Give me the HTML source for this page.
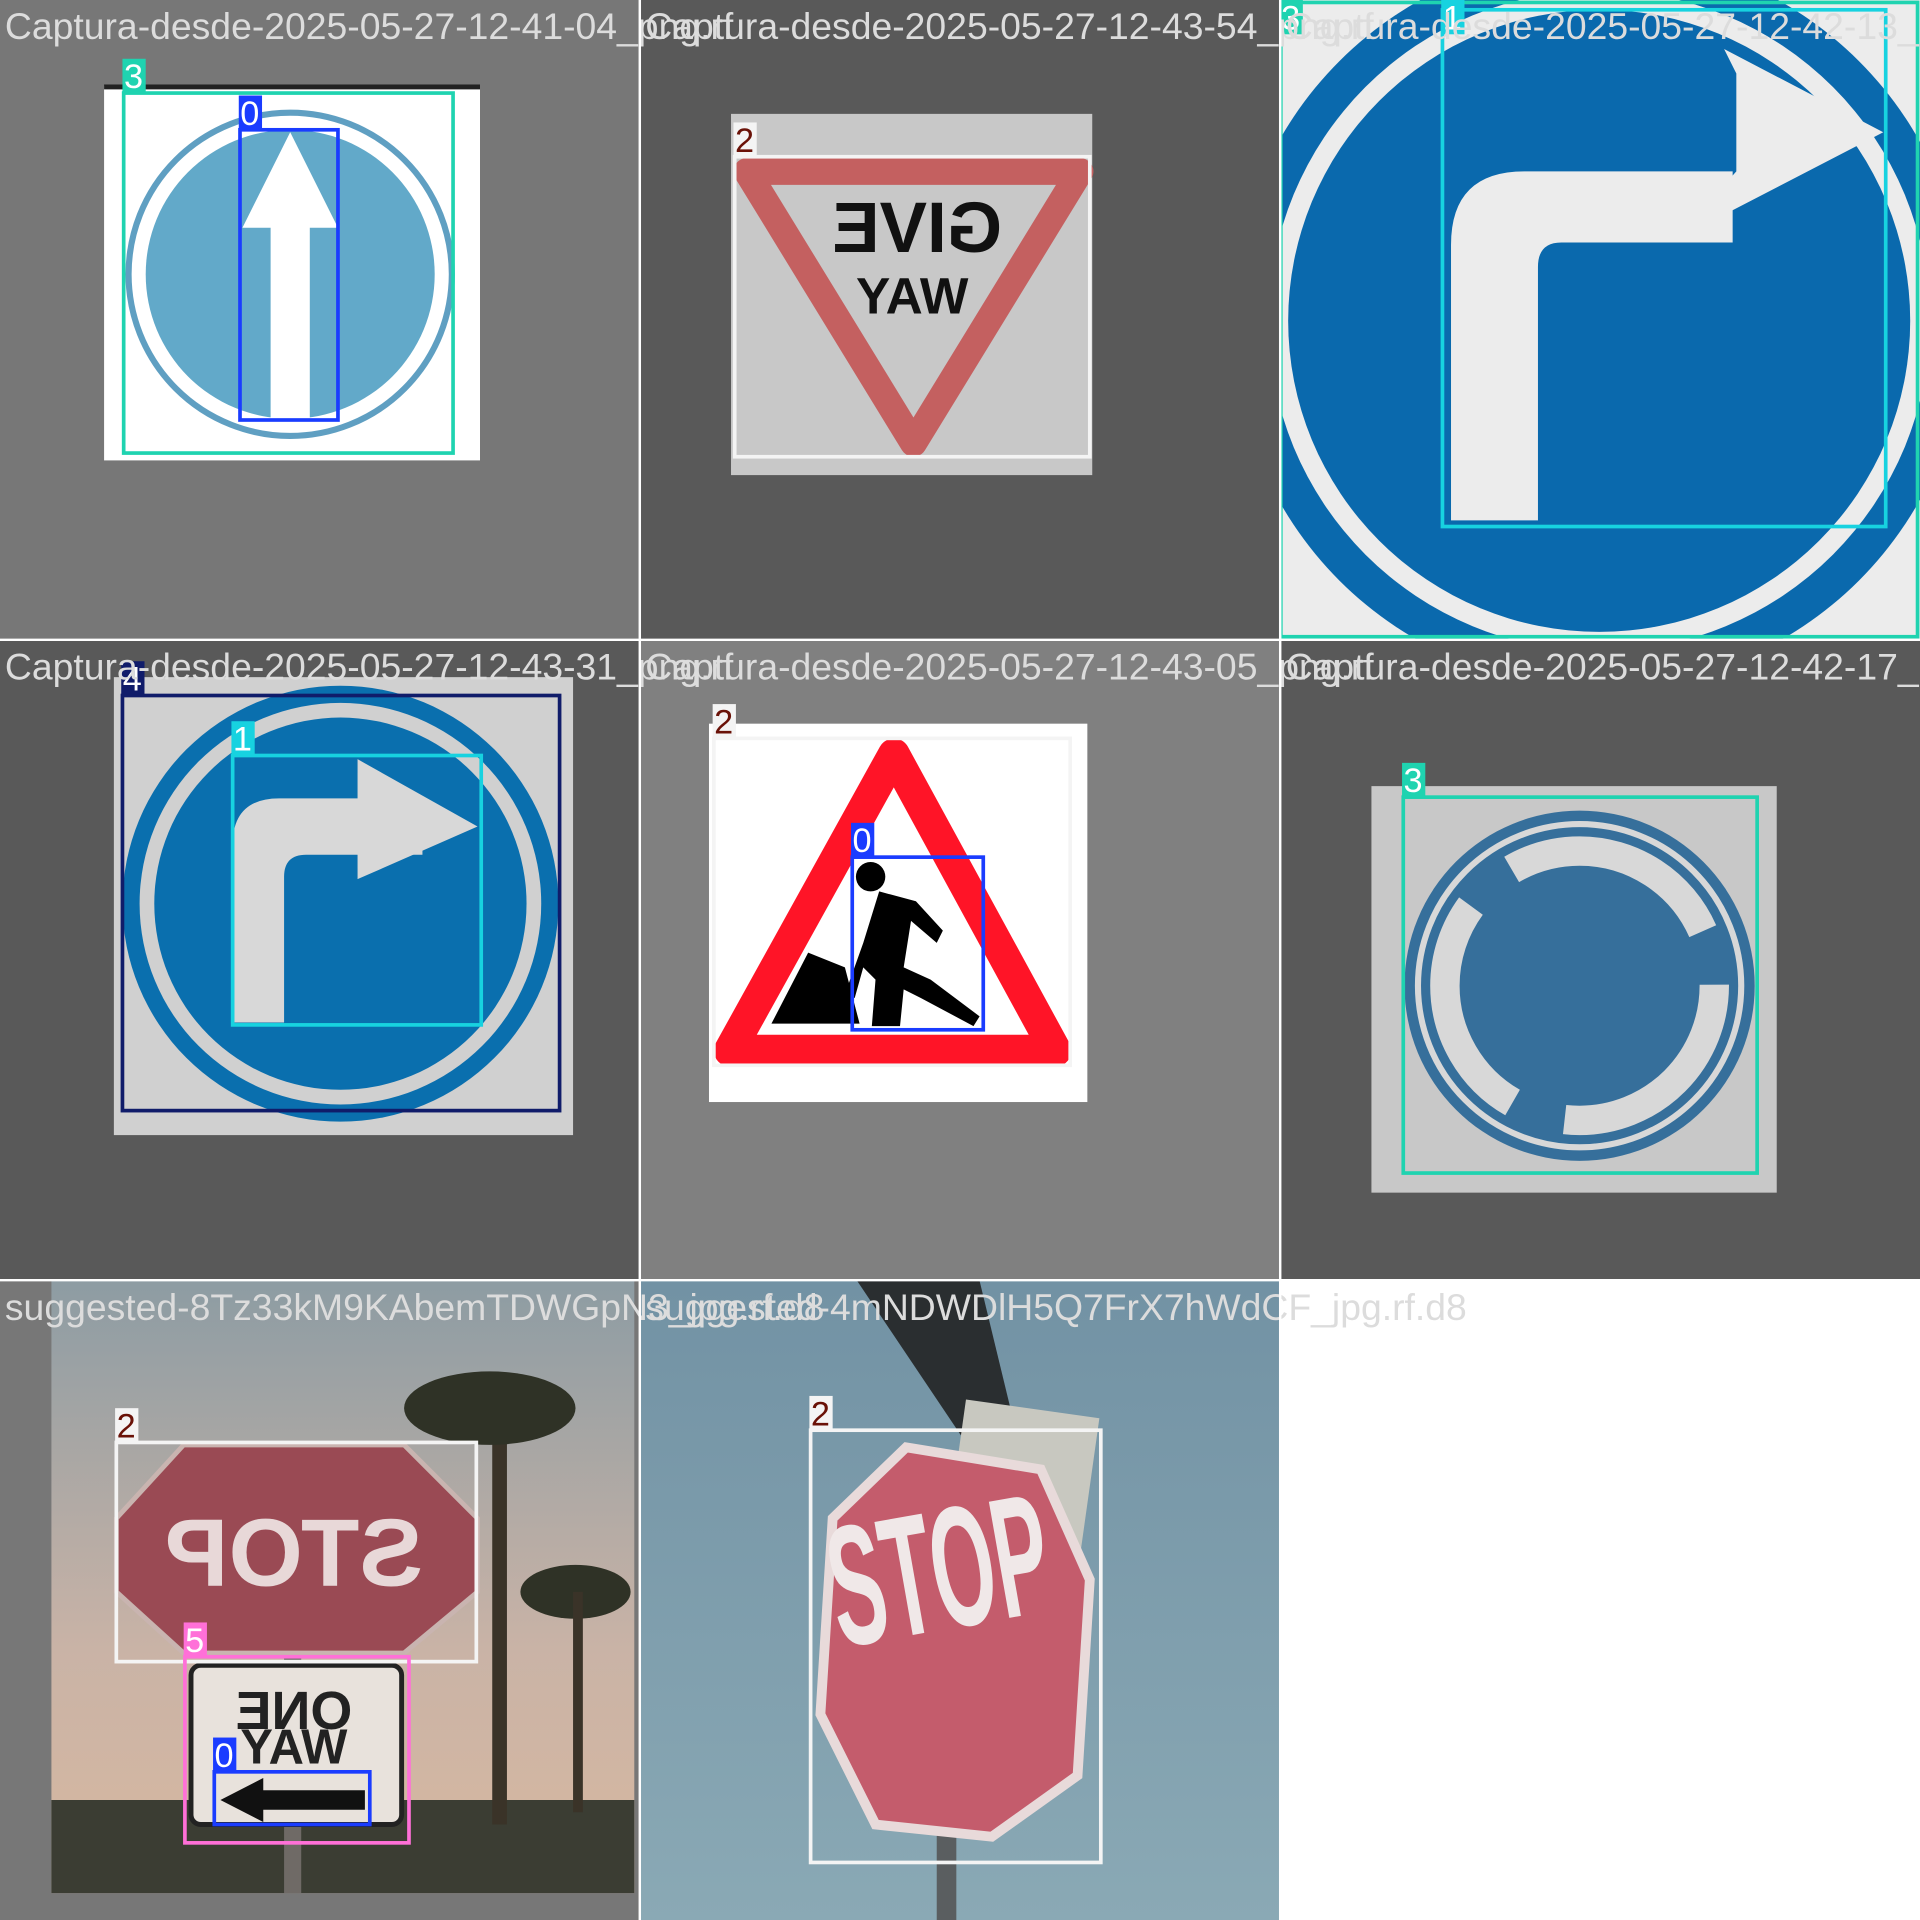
<!DOCTYPE html>
<html><head><meta charset="utf-8"><style>
html,body{margin:0;padding:0;background:#fff;}
svg{display:block;}
text{font-family:"Liberation Sans",sans-serif;}
</style></head><body>
<svg id="mosaic" width="1920" height="1920" viewBox="0 0 1568 1568" xmlns="http://www.w3.org/2000/svg">
<defs>
<clipPath id="c02"><rect x="1046" y="0" width="522" height="522"/></clipPath>
<clipPath id="c20"><rect x="0" y="1046" width="522" height="522"/></clipPath>
<clipPath id="c21"><rect x="523" y="1046" width="522" height="522"/></clipPath>
<linearGradient id="sky1" x1="0" y1="0" x2="0" y2="1"><stop offset="0" stop-color="#8d9ca3"/><stop offset="0.6" stop-color="#c9b3a6"/><stop offset="1" stop-color="#d8b8a0"/></linearGradient>
<linearGradient id="sky2" x1="0" y1="0" x2="0" y2="1"><stop offset="0" stop-color="#7292a4"/><stop offset="1" stop-color="#8aa9b5"/></linearGradient>
</defs>
<rect width="1568" height="1568" fill="#ffffff"/>

<g>
<rect x="0" y="0" width="522" height="522" fill="#777777"/>
<rect x="85" y="70" width="307" height="306" fill="#ffffff"/>
<rect x="85" y="69" width="307" height="4" fill="#222"/>
<circle cx="237" cy="224" r="132" fill="#ffffff" stroke="#5f9fc2" stroke-width="5"/>
<circle cx="237" cy="224" r="118" fill="#62a9c9"/>
<rect x="221" y="180" width="32" height="164" fill="#fff"/>
<polygon points="198,186 237,108 276,186" fill="#fff"/>
</g>

<g>
<rect x="523" y="0" width="522" height="522" fill="#595959"/>
<rect x="597" y="93" width="295" height="295" fill="#c8c8c8"/>
<polygon points="610,140 882,140 746,362" fill="none" stroke="#c46060" stroke-width="22" stroke-linejoin="round"/>
<text x="-749" y="206" transform="scale(-1,1)" text-anchor="middle" font-size="58" font-weight="bold" fill="#111">GIVE</text>
<text x="745" y="256" text-anchor="middle" font-size="42" font-weight="bold" fill="#111">YAW</text>
</g>

<g clip-path="url(#c02)">
<rect x="1046" y="0" width="522" height="522" fill="#ececec"/>
<circle cx="1306" cy="262" r="300" fill="#0a69ad"/>
<circle cx="1306" cy="262" r="270" fill="#ececec"/>
<circle cx="1306" cy="262" r="254" fill="#0a69ad"/>
<path d="M1185,425 L1185,200 Q1185,140 1245,140 L1415,140 L1415,198 L1275,198 Q1256,198 1256,218 L1256,425 Z" fill="#ececec"/>
<polygon points="1408,40 1538,108 1368,196 1418,140 1418,60" fill="#ececec"/>
</g>

<g>
<rect x="0" y="523" width="522" height="522" fill="#595959"/>
<rect x="93" y="553" width="375" height="374" fill="#d0d0d0"/>
<circle cx="278" cy="738" r="178" fill="#0a6fae"/>
<circle cx="278" cy="738" r="164" fill="#d0d0d0"/>
<circle cx="278" cy="738" r="152" fill="#0a6fae"/>
<path d="M190,835 L190,690 Q190,652 228,652 L345,652 L345,698 L250,698 Q232,698 232,716 L232,835 Z" fill="#d8d8d8"/>
<polygon points="292,620 390,675 292,718" fill="#d8d8d8"/>
</g>

<g>
<rect x="523" y="523" width="522" height="522" fill="#808080"/>
<rect x="579" y="591" width="309" height="309" fill="#ffffff"/>
<polygon points="730,616 862,858 596,858" fill="#fff" stroke="#ff1427" stroke-width="26" stroke-linejoin="round"/>
<polygon points="630,836 660,778 690,790 702,836" fill="#000"/>
<circle cx="711" cy="716" r="12" fill="#000"/>
<polygon points="718,728 748,736 770,760 765,770 744,752 738,790 760,800 800,830 795,838 752,815 738,808 735,838 712,838 715,800 705,790 698,815 690,812 705,770" fill="#000"/>
</g>

<g>
<rect x="1046" y="523" width="522" height="522" fill="#595959"/>
<rect x="1120" y="642" width="331" height="332" fill="#c8c8c8"/>
<circle cx="1290" cy="805" r="143" fill="#366f9b"/>
<circle cx="1290" cy="805" r="132" fill="none" stroke="#d8d8d8" stroke-width="5"/>
<circle cx="1290" cy="805" r="110" fill="none" stroke="#d8d8d8" stroke-width="24" stroke-dasharray="185 45"/>
</g>

<g clip-path="url(#c20)">
<rect x="0" y="1046" width="522" height="522" fill="#777777"/>
<rect x="42" y="1046" width="476" height="500" fill="url(#sky1)"/>
<rect x="42" y="1470" width="476" height="76" fill="#3b3d33"/>
<rect x="402" y="1170" width="12" height="320" fill="#3a3328"/>
<ellipse cx="400" cy="1150" rx="70" ry="30" fill="#2f3226"/>
<ellipse cx="470" cy="1300" rx="45" ry="22" fill="#2f3226"/>
<rect x="468" y="1300" width="8" height="180" fill="#3a3328"/>
<rect x="232" y="1350" width="14" height="196" fill="#6f6a66"/>
<polygon points="150,1180 330,1180 390,1240 390,1300 330,1350 150,1350 95,1300 95,1240" fill="#9a4a54" stroke="#c9b4b0" stroke-width="4"/>
<text x="-240" y="1295" transform="scale(-1,1)" text-anchor="middle" font-size="78" font-weight="bold" fill="#e8d8d8">STOP</text>
<rect x="156" y="1360" width="172" height="130" rx="8" fill="#e8e2dc" stroke="#222" stroke-width="4"/>
<text x="-240" y="1412" transform="scale(-1,1)" text-anchor="middle" font-size="44" font-weight="bold" fill="#222">ONE</text>
<text x="240" y="1440" text-anchor="middle" font-size="40" font-weight="bold" fill="#222" transform="translate(480,0) scale(-1,1)">WAY</text>
<polygon points="180,1470 215,1452 215,1462 298,1462 298,1478 215,1478 215,1488" fill="#111"/>
</g>

<g clip-path="url(#c21)">
<rect x="523" y="1046" width="522" height="522" fill="url(#sky2)"/>
<polygon points="700,1046 800,1046 830,1170 790,1180" fill="#2a2e30"/>
<rect x="765" y="1480" width="16" height="88" fill="#5a5e60"/>
<rect x="780" y="1150" width="110" height="120" fill="#c8c8c0" transform="rotate(8 835 1210)"/>
<polygon points="740,1182 850,1200 890,1290 880,1450 810,1500 715,1490 670,1400 680,1240" fill="#c45c6c" stroke="#e8dada" stroke-width="8"/>
<g transform="rotate(-10 775 1330)"><text x="775" y="1330" text-anchor="middle" font-size="70" font-weight="bold" fill="#f0e8e8" transform="translate(775 1330) scale(1,2) translate(-775 -1330)" textLength="180" lengthAdjust="spacingAndGlyphs">STOP</text></g>
</g>

<g id="boxes"></g>
<g id="titles"></g>
<g>
<line x1="522.5" y1="0" x2="522.5" y2="1568" stroke="#fff" stroke-width="2"/>
<line x1="1045.5" y1="0" x2="1045.5" y2="1568" stroke="#fff" stroke-width="2"/>
<line x1="0" y1="522.5" x2="1568" y2="522.5" stroke="#fff" stroke-width="2"/>
<line x1="0" y1="1045.5" x2="1568" y2="1045.5" stroke="#fff" stroke-width="2"/>
</g>
</svg>
<script>
const NS = "http://www.w3.org/2000/svg";
const boxClasses = [3, 0, 2, 3, 1, 4, 1, 2, 0, 3, 2, 5, 0, 2];
const boxX1 = [101, 196, 600, 1046, 1178, 100, 190, 583, 696, 1146, 95, 151, 175, 662];
const boxY1 = [76, 106, 128, 2, 8, 568, 617, 603, 700, 651, 1178, 1353, 1447, 1168];
const boxX2 = [370, 276, 890, 1566, 1540, 457, 393, 874, 803, 1435, 389, 334, 302, 899];
const boxY2 = [370, 343, 373, 520, 430, 907, 837, 870, 841, 958, 1357, 1505, 1490, 1521];
const classColors = ["#1a3cff", "#17d2e0", "#f4f4f4", "#1fd3b0", "#101c6a", "#ff70d8"];
const labelTextColors = ["#fff", "#fff", "#6a1208", "#fff", "#fff", "#fff"];
const titleTexts = [
 "Captura-desde-2025-05-27-12-41-04_png.rf",
 "Captura-desde-2025-05-27-12-43-54_png.rf",
 "Captura-desde-2025-05-27-12-42-13_png.rf",
 "Captura-desde-2025-05-27-12-43-31_png.rf",
 "Captura-desde-2025-05-27-12-43-05_png.rf",
 "Captura-desde-2025-05-27-12-42-17_png.rf",
 "suggested-8Tz33kM9KAbemTDWGpN3_jpg.rf.d8",
 "suggested-4mNDWDlH5Q7FrX7hWdCF_jpg.rf.d8"
];
const bg = document.getElementById("boxes");
for (let i = 0; i < boxClasses.length; i++) {
  const c = boxClasses[i];
  const r = document.createElementNS(NS, "rect");
  r.setAttribute("x", boxX1[i]); r.setAttribute("y", boxY1[i]);
  r.setAttribute("width", boxX2[i] - boxX1[i]); r.setAttribute("height", boxY2[i] - boxY1[i]);
  r.setAttribute("fill", "none"); r.setAttribute("stroke", classColors[c]); r.setAttribute("stroke-width", "3");
  
  
  bg.appendChild(r);
  const lb = document.createElementNS(NS, "rect");
  lb.setAttribute("x", boxX1[i] - 1); lb.setAttribute("y", Math.max(0, boxY1[i] - 28));
  lb.setAttribute("width", 19); lb.setAttribute("height", 28);
  lb.setAttribute("fill", classColors[c]);
  
  
  bg.appendChild(lb);
  const t = document.createElementNS(NS, "text");
  t.setAttribute("x", boxX1[i] + 8); t.setAttribute("y", Math.max(0, boxY1[i] - 28) + 24);
  t.setAttribute("text-anchor", "middle"); t.setAttribute("font-size", "28");
  t.setAttribute("fill", labelTextColors[c]);
  t.textContent = c;
  
  
  bg.appendChild(t);
}
const tg = document.getElementById("titles");
for (let i = 0; i < titleTexts.length; i++) {
  const t = document.createElementNS(NS, "text");
  t.setAttribute("x", (i % 3) * 523 + 4);
  t.setAttribute("y", Math.floor(i / 3) * 523 + 32);
  t.setAttribute("font-size", "30.5");
  t.setAttribute("fill", "#dcdcdc");
  t.textContent = titleTexts[i];
  
  
  tg.appendChild(t);
}
</script>
</body></html>
